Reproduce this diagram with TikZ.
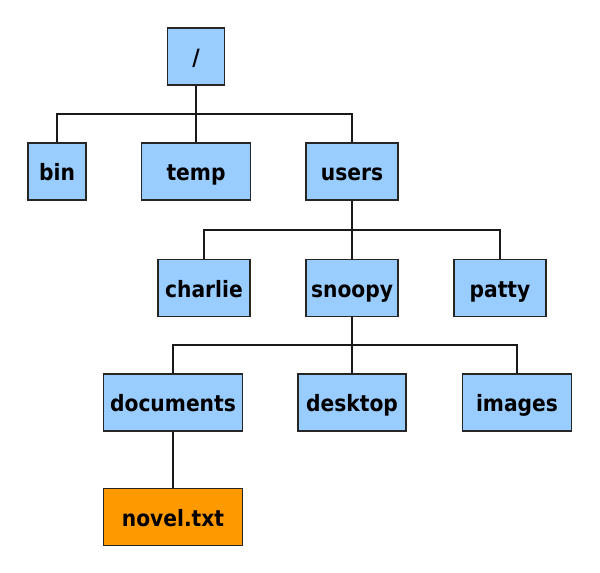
\documentclass[tikz,border=0pt]{standalone}
\usepackage{fontspec}
\setmainfont{DejaVu Sans Condensed}
\usepackage{tikz}
\usetikzlibrary{positioning, calc}

\definecolor{dirblue}{HTML}{99CCFF}
\definecolor{fileorange}{HTML}{FF9900}

\tikzset{
  dir/.style={draw=black!85, line width=1.6pt, fill=dirblue, minimum height=57pt,
    inner sep=0pt, text height=18.4pt, text depth=0pt,
    font=\fontsize{22.5}{22.5}\selectfont\bfseries},
  file/.style={dir, fill=fileorange},
  stem/.style={line width=2.6pt, black!90},
  branch/.style={line width=1.8pt, black!90}
}

\begin{document}
\begin{tikzpicture}[x=1pt, y=-1pt]
  \useasboundingbox (0,0) rectangle (600,573);

  % Root
  \node[dir, minimum width=57pt] (root) at (196,56.5) {/};

  % First level
  \node[dir, minimum width=58pt] (bin) at (57,171.5) {bin};
  \node[dir, minimum width=109pt] (temp) at (196,171.5) {temp};
  \node[dir, minimum width=92pt] (users) at (352,171.5) {users};

  % Home directories
  \node[dir, minimum width=92pt] (charlie) at (204,288) {charlie};
  \node[dir, minimum width=92pt] (snoopy) at (352,288) {snoopy};
  \node[dir, minimum width=92pt] (patty) at (500,288) {patty};

  % Inside snoopy
  \node[dir, minimum width=139pt] (documents) at (173,402.5) {documents};
  \node[dir, minimum width=108pt] (desktop) at (352,402.5) {desktop};
  \node[dir, minimum width=109pt] (images) at (517,402.5) {images};

  % The file
  \node[file, minimum width=139pt] (novel) at (173,517) {novel.txt};

  % Bars
  \coordinate (rootbar) at (root.south |- 0,114);
  \coordinate (usersbar) at (users.south |- 0,230);
  \coordinate (snoopybar) at (snoopy.south |- 0,345);

  \draw[stem] (root.south) -- (rootbar);
  \foreach \n in {bin,temp,users} {
    \draw[branch] (\n.north) |- (rootbar);
  }
  \draw[stem] (users.south) -- (usersbar);
  \foreach \n in {charlie,snoopy,patty} {
    \draw[branch] (\n.north) |- (usersbar);
  }
  \draw[stem] (snoopy.south) -- (snoopybar);
  \foreach \n in {documents,desktop,images} {
    \draw[branch] (\n.north) |- (snoopybar);
  }
  \draw[branch] (documents.south) -- (novel.north);
\end{tikzpicture}
\end{document}
